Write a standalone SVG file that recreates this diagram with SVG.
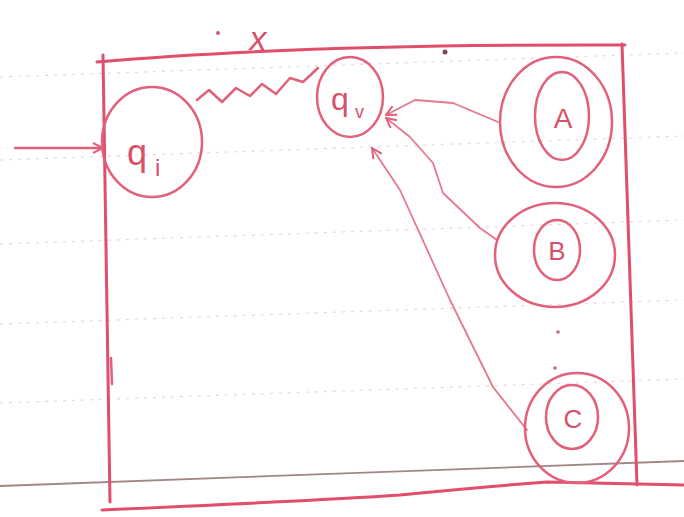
<svg xmlns="http://www.w3.org/2000/svg" width="684" height="517" viewBox="0 0 684 517">
<style>
.pen{fill:none;stroke:#e2607a;stroke-width:2.5;stroke-linecap:round;stroke-linejoin:round}
.thin{fill:none;stroke:#e6778c;stroke-width:1.8;stroke-linecap:round;stroke-linejoin:round}
.frame{fill:none;stroke:#e04e6c;stroke-width:3;stroke-linecap:round}
.rule{stroke:#e8b8b8;stroke-width:1.2;stroke-dasharray:3 6;opacity:0.6}
.lbl{font-family:"Liberation Sans",Arial,sans-serif;fill:#d9506a}
</style>
<defs>
<marker id="ah" viewBox="0 0 12 12" refX="11" refY="6" markerWidth="12" markerHeight="12" markerUnits="userSpaceOnUse" orient="auto">
<path d="M1,1 L11,6 L1,11" fill="none" stroke="#e2607a" stroke-width="2"/>
</marker>
</defs>
<rect width="684" height="517" fill="#ffffff"/>
<g id="paper">
<line class="rule" x1="0" y1="77" x2="684" y2="53"/>
<line class="rule" x1="0" y1="160" x2="684" y2="136"/>
<line class="rule" x1="0" y1="244" x2="684" y2="220"/>
<line class="rule" x1="0" y1="324" x2="684" y2="300"/>
<line class="rule" x1="0" y1="403" x2="684" y2="379"/>
<line x1="0" y1="486" x2="684" y2="461" stroke="#8a6a66" stroke-width="1.8" opacity="0.8"/>
</g>
<g id="frame">
<path class="frame" d="M97,62 Q300,44 625,45"/>
<path class="frame" d="M103,55 L110,502"/>
<path class="frame" d="M622,44 L637,485"/>
<path class="frame" d="M102,510 Q330,500 400,495 Q480,487 547,482 L684,485"/>
<path class="pen" d="M111,358 L112,384"/>
<circle cx="218" cy="33" r="2" fill="#c85a6c"/>
<circle cx="445" cy="52" r="2.5" fill="#7a4a50"/>
<text class="lbl" x="258" y="50" font-size="34" font-style="italic" text-anchor="middle" font-family="Liberation Serif,serif">x</text>
</g>
<g id="connectors">
<path class="pen" d="M15,148 L103,148" marker-end="url(#ah)"/>
<path class="pen" d="M197,100 L209,90 L222,102 L236,88 L250,96 L262,84 L276,94 L290,78 L303,82 L318,68"/>
<path class="thin" d="M498,122 L453,103 L415,100 L386,115" marker-end="url(#ah)"/>
<path class="thin" d="M497,240 L480,228 L443,193 L433,163 L410,137 L386,118" marker-end="url(#ah)"/>
<path class="thin" d="M527,430 L493,387 L450,300 L400,190 L372,148" marker-end="url(#ah)"/>
</g>
<g id="node-qi">
<ellipse class="pen" cx="152" cy="142" rx="50" ry="55"/>
<text class="lbl" x="127" y="165" font-size="36">q</text>
<text class="lbl" x="155" y="176" font-size="24">i</text>
</g>
<g id="node-qv">
<ellipse class="pen" cx="350" cy="97" rx="33" ry="40"/>
<text class="lbl" x="331" y="110" font-size="32">q</text>
<text class="lbl" x="355" y="118" font-size="18">v</text>
</g>
<g id="node-A">
<ellipse class="pen" cx="556" cy="122" rx="56" ry="65"/>
<ellipse class="pen" cx="562" cy="116" rx="27" ry="44"/>
<text class="lbl" x="563" y="128" font-size="28" text-anchor="middle">A</text>
</g>
<g id="node-B">
<ellipse class="pen" cx="555" cy="255" rx="60" ry="52"/>
<ellipse class="pen" cx="557" cy="250" rx="23" ry="30"/>
<text class="lbl" x="557" y="260" font-size="26" text-anchor="middle">B</text>
</g>
<g id="dots">
<circle cx="558" cy="332" r="1.8" fill="#c86a76"/>
<circle cx="555" cy="368" r="1.8" fill="#c86a76"/>
</g>
<g id="node-C">
<ellipse class="pen" cx="577" cy="428" rx="52" ry="55"/>
<ellipse class="pen" cx="572" cy="417" rx="26" ry="32"/>
<text class="lbl" x="573" y="428" font-size="26" text-anchor="middle">C</text>
</g>
</svg>
